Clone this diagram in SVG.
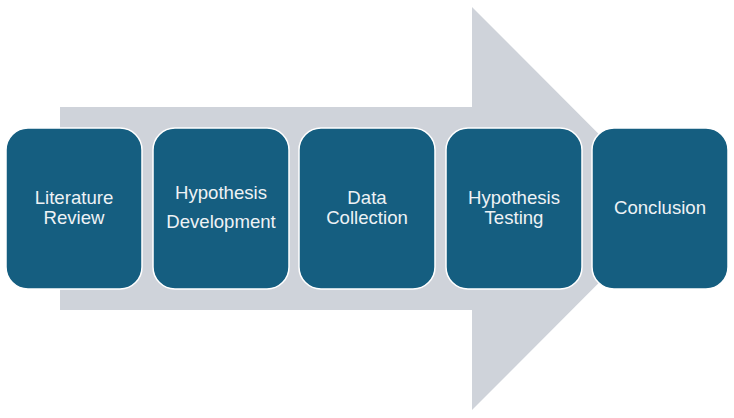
<svg xmlns="http://www.w3.org/2000/svg" width="734" height="418" viewBox="0 0 734 418">
<style>
.box{fill:#155e80;stroke:#ffffff;stroke-width:1.5}
.t{font-family:"Liberation Sans",Arial,sans-serif;font-size:18.6px;fill:#eef2f5;text-anchor:middle}
</style>
<rect width="734" height="418" fill="#ffffff"/>
<g id="arrow">
<polygon points="60,107 472,107 472,7 673,208.5 472,410 472,310 60,310" fill="#cfd3da"/>
</g>
<g id="n1"><rect class="box" x="6" y="128" width="136" height="161" rx="22"/>
<text class="t" x="74" y="204">Literature</text><text class="t" x="74" y="224">Review</text></g>
<g id="n2"><rect class="box" x="153" y="128" width="136" height="161" rx="22"/>
<text class="t" x="221" y="199">Hypothesis</text><text class="t" x="221" y="228">Development</text></g>
<g id="n3"><rect class="box" x="299" y="128" width="136" height="161" rx="22"/>
<text class="t" x="367" y="204">Data</text><text class="t" x="367" y="224">Collection</text></g>
<g id="n4"><rect class="box" x="446" y="128" width="136" height="161" rx="22"/>
<text class="t" x="514" y="204">Hypothesis</text><text class="t" x="514" y="224">Testing</text></g>
<g id="n5"><rect class="box" x="592" y="128" width="136" height="161" rx="22"/>
<text class="t" x="660" y="214">Conclusion</text></g>
</svg>
